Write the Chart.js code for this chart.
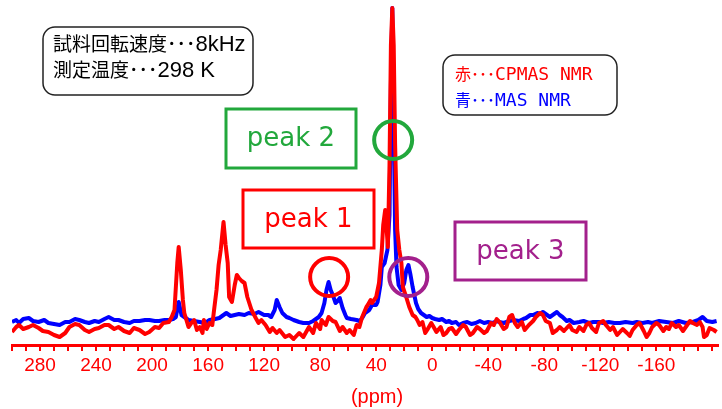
<!DOCTYPE html>
<html>
<head>
<meta charset="utf-8">
<script src="https://cdn.jsdelivr.net/npm/chart.js@4"></script>
<style>
  html, body { margin: 0; padding: 0; background: #fff; }
  canvas { display: block; }
</style>
</head>
<body>
<canvas id="nmr" width="722" height="409"></canvas>
<script>
'use strict';

// ── Data (chemical shift in ppm, intensity in arbitrary units) ──
const redPpm = [
  300, 297, 295, 292, 288, 285, 281, 278, 274, 270,
  266, 262, 259, 255, 252, 248, 245, 241, 238, 234,
  231, 227, 224, 220, 216, 213, 209, 205, 202, 198,
  195, 192, 188, 186, 184, 182, 181, 179.5, 178, 177,
  174, 172, 170, 168, 166, 164, 163, 161, 159, 157,
  156, 154, 152.5, 151, 149, 147.5, 146, 145, 143, 141,
  139.5, 138, 136, 134, 132, 129, 126, 124, 122, 119,
  116, 114, 111, 109, 105, 102, 99, 95, 92, 88,
  85, 83, 80, 79, 76, 74, 71, 69, 66, 64,
  61, 59, 56, 54, 52, 50, 47, 46, 44, 43,
  40, 38, 36, 35, 33.6, 32.5, 31.7, 30.5, 29.5, 28.5,
  27.5, 26.5, 25, 23.5, 22, 21, 18.6, 16.4, 14, 12,
  10.7, 9, 7, 5, 3.6, 0.7, -1, -3, -6, -8,
  -10, -12, -14, -17, -19, -22, -24, -27, -29, -32,
  -34, -37, -39, -42, -44, -46, -48, -51, -53, -55,
  -57, -59, -61, -64, -66, -69, -72, -74, -77, -79,
  -81, -84, -86, -89, -91, -94, -96, -98, -100, -103,
  -105, -108, -110, -112, -114, -117, -119, -122, -124, -127,
  -129, -132, -134, -136, -139, -141, -143, -146, -148, -151,
  -153, -155, -157, -160, -162, -165, -167, -169, -171, -174,
  -176, -179, -181, -184, -186, -189, -191, -193, -194, -196,
  -198, -201, -203
];
const redInt = [
  13, 18, 20, 16, 18, 20, 17, 14, 13, 10,
  8, 12, 18, 21, 20, 15, 13, 16, 17, 20,
  20, 16, 18, 14, 12, 17, 15, 11, 13, 18,
  17, 22, 23, 28, 35, 82, 98, 75, 45, 32,
  18, 22, 25, 15, 18, 12, 25, 16, 22, 20,
  32, 55, 80, 95, 123, 100, 82, 48, 43, 60,
  70, 67, 64, 62, 48, 35, 27, 22, 25, 20,
  13, 17, 12, 15, 8, 10, 6, 12, 8, 18,
  12, 22, 16, 25, 20, 28, 24, 23, 14, 18,
  12, 15, 10, 20, 18, 28, 38, 40, 45, 42,
  48, 62, 95, 120, 135, 115, 98, 180, 300, 337,
  300, 200, 115, 95, 82, 58, 48, 38, 30, 28,
  25, 20, 23, 12, 15, 22, 18, 13, 18, 10,
  12, 16, 17, 11, 15, 20, 18, 10, 12, 18,
  16, 12, 14, 22, 20, 26, 23, 16, 18, 28,
  30, 22, 18, 23, 15, 20, 24, 28, 32, 30,
  24, 22, 12, 15, 18, 14, 17, 20, 15, 13,
  18, 14, 20, 22, 17, 13, 22, 24, 20, 15,
  18, 10, 13, 16, 12, 9, 15, 20, 22, 14,
  8, 12, 18, 22, 20, 14, 18, 16, 22, 18,
  20, 14, 18, 24, 22, 20, 23, 18, 8, 10,
  17, 15, 13
];

const bluePpm = [
  300, 297, 295, 292, 288, 285, 281, 277, 274, 270,
  266, 262, 259, 255, 252, 248, 245, 241, 238, 234,
  231, 227, 224, 220, 216, 213, 209, 205, 202, 198,
  195, 191, 188, 185, 183, 181, 179, 177, 174, 170,
  166, 162, 159, 155, 152, 149, 147, 144, 141, 138,
  134, 131, 127, 124, 120, 117, 115, 112.5, 111, 109,
  107, 104, 102, 99, 95, 92, 88, 85, 81, 79,
  77, 75.5, 74, 72.5, 71, 69, 67.5, 66, 64, 62,
  61, 58, 54, 52, 50, 48, 45, 43, 40, 39,
  37, 36, 34, 32, 30.5, 29.5, 28.5, 27.5, 26.5, 25.5,
  24, 22, 20, 18.5, 17, 15.5, 14, 11.6, 10, 8,
  6, 4, 2, 0, -2, -5, -7, -10, -12, -14,
  -17, -19, -22, -25, -28, -31, -34, -37, -40, -43,
  -46, -48, -51, -55, -58, -62, -65, -67, -70, -72,
  -75, -77, -79, -82, -84, -86, -89, -91, -93, -96,
  -98, -101, -105, -108, -112, -115, -119, -122, -126, -130,
  -134, -138, -143, -146, -150, -154, -157, -162, -167, -172,
  -176, -181, -186, -190, -193, -196, -200, -203
];
const blueInt = [
  23, 25, 22, 26, 27, 24, 23, 25, 22, 21,
  20, 23, 23, 26, 25, 23, 22, 24, 23, 26,
  28, 25, 25, 23, 22, 24, 24, 25, 25, 24,
  24, 25, 25, 26, 28, 43, 30, 28, 25, 24,
  23, 22, 25, 26, 27, 30, 32, 29, 30, 31,
  30, 32, 31, 33, 30, 30, 28, 35, 45, 38,
  32, 28, 27, 25, 23, 22, 22, 24, 28, 32,
  42, 55, 63, 55, 50, 42, 44, 47, 37, 30,
  27, 26, 25, 24, 27, 32, 35, 40, 40, 43,
  60, 78, 82, 95, 130, 260, 337, 220, 115, 78,
  60, 55, 62, 75, 80, 70, 58, 42, 36, 32,
  30, 28, 29, 27, 26, 25, 26, 23, 24, 22,
  23, 20, 22, 23, 21, 22, 24, 22, 23, 22,
  24, 23, 22, 24, 25, 24, 26, 27, 30, 30,
  32, 31, 33, 30, 28, 30, 33, 30, 28, 24,
  25, 22, 23, 24, 22, 23, 23, 22, 23, 22,
  22, 23, 22, 23, 22, 23, 22, 24, 23, 22,
  24, 22, 23, 25, 28, 24, 23, 24
];

// tick labels shown under the axis (ppm)
const tickLabels = [280, 240, 200, 160, 120, 80, 40, 0, -40, -80, -120, -160];

// circled peaks: position in data units
const markPpm    = [73.6, 27.9, 17.1];
const markInt    = [68, 205, 68];
const markColors = ['#ff0000', '#22a83c', '#a3208c'];

const toPoints = (xs, ys) => xs.map((v, i) => ({ x: v, y: ys[i] }));

// ── helpers for the annotation layer ──────────────────────
function roundBox(ctx, x, y, w, h, r) {
  ctx.beginPath();
  ctx.moveTo(x + r, y);
  ctx.arcTo(x + w, y, x + w, y + h, r);
  ctx.arcTo(x + w, y + h, x, y + h, r);
  ctx.arcTo(x, y + h, x, y, r);
  ctx.arcTo(x, y, x + w, y, r);
  ctx.closePath();
  ctx.stroke();
}

function drawRuns(ctx, x, y, runs) {
  runs.forEach(([txt, font, color]) => {
    ctx.font = font;
    ctx.fillStyle = color;
    ctx.fillText(txt, x, y);
    x += ctx.measureText(txt).width;
  });
}

const CJK19 = "19px 'Noto Sans CJK JP'";
const CJK16 = "16px 'Noto Sans CJK JP'";
const LAT22 = "22px 'Liberation Sans'";
const MONO18 = "18px 'DejaVu Sans Mono'";
const PEAKF = "26px 'DejaVu Sans'";

const overlay = {
  id: 'overlay',
  afterDraw(chart) {
    const { ctx, scales: { x, y } } = chart;
    ctx.save();
    ctx.textBaseline = 'alphabetic';
    ctx.textAlign = 'left';

    // measurement conditions
    ctx.strokeStyle = '#222';
    ctx.lineWidth = 1.5;
    roundBox(ctx, 43, 27, 210, 68, 12);
    drawRuns(ctx, 53, 51, [['試料回転速度･･･', CJK19, '#000'], ['8kHz', LAT22, '#000']]);
    drawRuns(ctx, 53, 77, [['測定温度･･･', CJK19, '#000'], ['298 K', LAT22, '#000']]);

    // legend
    roundBox(ctx, 443, 55, 174, 60, 12);
    drawRuns(ctx, 455, 80, [['赤･･･', CJK16, '#ff0000'], ['CPMAS NMR', MONO18, '#ff0000']]);
    drawRuns(ctx, 455, 106, [['青･･･', CJK16, '#0000ff'], ['MAS NMR', MONO18, '#0000ff']]);

    // peak labels
    const boxes = [
      ['peak 2', 226, 109, 130, 59, markColors[1]],
      ['peak 1', 243, 190, 131, 58, markColors[0]],
      ['peak 3', 455, 222, 131, 58, markColors[2]],
    ];
    ctx.lineWidth = 3;
    ctx.textAlign = 'center';
    ctx.textBaseline = 'middle';
    ctx.font = PEAKF;
    boxes.forEach(([t, bx, by, bw, bh, c]) => {
      ctx.strokeStyle = c;
      ctx.strokeRect(bx, by, bw, bh);
      ctx.fillStyle = c;
      ctx.fillText(t, bx + bw / 2, by + bh / 2 + 1);
    });

    // circles on the peaks
    ctx.lineWidth = 4;
    markPpm.forEach((p, i) => {
      ctx.strokeStyle = markColors[i];
      ctx.beginPath();
      ctx.arc(x.getPixelForValue(p), y.getPixelForValue(markInt[i]), 19, 0, Math.PI * 2);
      ctx.stroke();
    });

    // axis unit
    ctx.fillStyle = '#ff0000';
    ctx.font = "20px 'Liberation Sans'";
    ctx.fillText('(ppm)', 377, 397);
    ctx.restore();
  }
};

// ── Chart ─────────────────────────────────────────────────
const ctx = document.getElementById('nmr').getContext('2d');
new Chart(ctx, {
  type: 'line',
  data: {
    datasets: [
      {
        label: 'CPMAS NMR',
        data: toPoints(redPpm, redInt),
        borderColor: '#ff0000',
        borderWidth: 4,
        pointRadius: 0,
        tension: 0,
        borderJoinStyle: 'round',
        order: 1,
      },
      {
        label: 'MAS NMR',
        data: toPoints(bluePpm, blueInt),
        borderColor: '#0000ff',
        borderWidth: 4,
        pointRadius: 0,
        tension: 0,
        borderJoinStyle: 'round',
        order: 2,
      },
    ]
  },
  options: {
    responsive: false,
    animation: false,
    events: [],
    layout: { padding: { left: 12, right: 4, top: 5, bottom: 0 } },
    plugins: { legend: { display: false }, tooltip: { enabled: false } },
    scales: {
      x: {
        type: 'linear',
        reverse: true,
        min: -204,
        max: 300,
        border: { color: '#ff0000', width: 3 },
        grid: { drawOnChartArea: false, color: '#ff0000', lineWidth: 2, tickLength: 6 },
        ticks: {
          stepSize: 10,
          includeBounds: false,
          autoSkip: false,
          maxRotation: 0,
          padding: 3,
          color: '#ff0000',
          font: { family: "'Liberation Sans'", size: 19 },
          callback: v => tickLabels.includes(v) ? String(v) : '',
        },
        afterFit: s => { s.height = 64; },
      },
      y: { display: false, min: 0, max: 340 }
    }
  },
  plugins: [overlay]
});
</script>
</body>
</html>
